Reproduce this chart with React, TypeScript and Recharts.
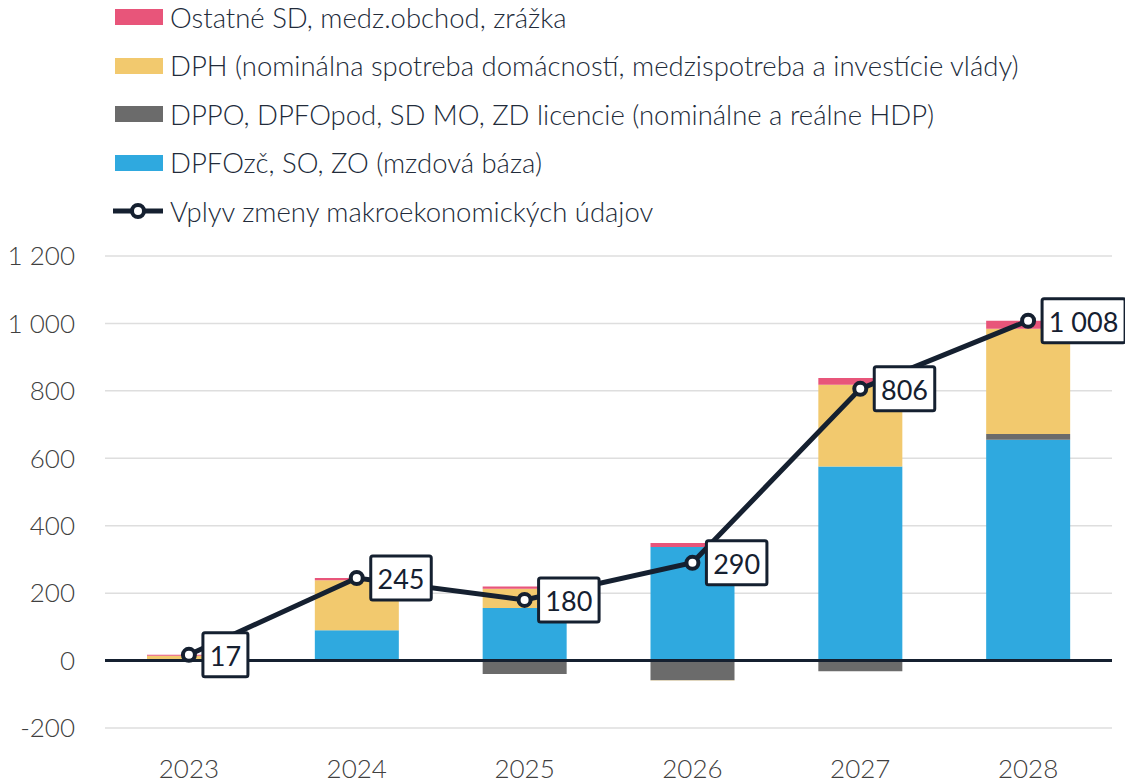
import {
  ComposedChart,
  Bar,
  Line,
  XAxis,
  YAxis,
  CartesianGrid,
  ReferenceLine,
  LabelList,
} from "recharts";

const years = ["2023", "2024", "2025", "2026", "2027", "2028"];
const wageBase = [2, 90, 156, 337, 576, 655];
const corporate = [0, 0, -40, -58, -32, 17];
const vat = [12, 148, 57, -1, 242, 312];
const other = [3, 7, 7, 12, 20, 24];
const total = [17, 245, 180, 290, 806, 1008];
const yTicks = [-200, 0, 200, 400, 600, 800, 1000, 1200];

const seriesNames = {
  other: "Ostatné SD, medz.obchod, zrážka",
  vat: "DPH (nominálna spotreba domácností, medzispotreba a investície vlády)",
  corporate: "DPPO, DPFOpod, SD MO, ZD licencie (nominálne a reálne HDP)",
  wageBase: "DPFOzč, SO, ZO (mzdová báza)",
  total: "Vplyv zmeny makroekonomických údajov",
};

const colors = {
  other: "#e8557a",
  vat: "#f2c96e",
  corporate: "#6b6b6b",
  wageBase: "#2fa9df",
  line: "#152030",
};

const data = years.map((year, i) => ({
  year,
  wageBase: wageBase[i],
  corporate: corporate[i],
  vat: vat[i],
  other: other[i],
  total: total[i],
}));

const fmt = (v: number) => {
  const s = String(Math.abs(v)).replace(/\B(?=(\d{3})+(?!\d))/g, " ");
  return v < 0 ? "-" + s : s;
};

const ValueBox = (props: any) => {
  const { x, y, value } = props;
  const text = fmt(value);
  const w =
    text.replace(/ /g, "").length * 15.5 + (text.includes(" ") ? 7 : 0) + 14;
  return (
    <g>
      <rect
        x={x + 14}
        y={y - 22}
        width={w}
        height={44}
        fill="#fff"
        stroke={colors.line}
        strokeWidth={3}
        rx={2}
      />
      <text
        x={x + 14 + w / 2}
        y={y + 1}
        textAnchor="middle"
        dominantBaseline="central"
        fontSize={27}
        fontWeight={400}
        fill={colors.line}
      >
        {text}
      </text>
    </g>
  );
};

const legendItems = [
  { key: "other", type: "bar" },
  { key: "vat", type: "bar" },
  { key: "corporate", type: "bar" },
  { key: "wageBase", type: "bar" },
  { key: "total", type: "line" },
] as const;

const ChartLegend = () => (
  <div style={{ position: "absolute", left: 113, top: -7 }}>
    {legendItems.map((item) => (
      <div
        key={item.key}
        style={{ display: "flex", alignItems: "center", height: 48.5 }}
      >
        {item.type === "bar" ? (
          <div
            style={{
              width: 48,
              height: 16,
              marginLeft: 2,
              background: (colors as any)[item.key],
            }}
          />
        ) : (
          <svg width={50} height={20}>
            <line x1={0} y1={10} x2={50} y2={10} stroke={colors.line} strokeWidth={5} />
            <circle cx={25} cy={10} r={6} fill="#fff" stroke={colors.line} strokeWidth={4} />
          </svg>
        )}
        <span
          style={{
            marginLeft: 7,
            fontSize: 27.5,
            fontWeight: 300,
            color: "#222b3a",
            whiteSpace: "nowrap",
          }}
        >
          {(seriesNames as any)[item.key]}
        </span>
      </div>
    ))}
  </div>
);

export default function App() {
  return (
    <div
      style={{
        position: "absolute",
        left: 0,
        top: 0,
        width: 1125,
        height: 781,
        background: "#fff",
        fontFamily: "Lato, sans-serif",
        fontWeight: 300,
      }}
    >
      <ComposedChart
        width={1125}
        height={781}
        data={data}
        stackOffset="sign"
        margin={{ top: 256, right: 13, bottom: 0, left: 0 }}
      >
        <CartesianGrid vertical={false} stroke="#dedede" strokeWidth={1.5} />
        <XAxis
          dataKey="year"
          axisLine={false}
          tickLine={false}
          tickSize={0}
          tickMargin={32}
          height={53}
          tick={{ fontSize: 26, fill: "#404040" }}
        />
        <YAxis
          domain={[-200, 1200]}
          ticks={yTicks}
          axisLine={false}
          tickLine={false}
          tickSize={0}
          tickMargin={30}
          width={105}
          tickFormatter={fmt}
          tick={{ fontSize: 26, fill: "#404040" }}
        />
        <Bar dataKey="wageBase" name={seriesNames.wageBase} stackId="a" fill={colors.wageBase} barSize={84} isAnimationActive={false} />
        <Bar dataKey="corporate" name={seriesNames.corporate} stackId="a" fill={colors.corporate} barSize={84} isAnimationActive={false} />
        <Bar dataKey="vat" name={seriesNames.vat} stackId="a" fill={colors.vat} barSize={84} isAnimationActive={false} />
        <Bar dataKey="other" name={seriesNames.other} stackId="a" fill={colors.other} barSize={84} isAnimationActive={false} />
        <ReferenceLine y={0} stroke={colors.line} strokeWidth={3} />
        <Line
          dataKey="total"
          name={seriesNames.total}
          stroke={colors.line}
          strokeWidth={5}
          dot={{ r: 6, fill: "#fff", stroke: colors.line, strokeWidth: 4 }}
          activeDot={false}
          isAnimationActive={false}
        >
          <LabelList dataKey="total" content={ValueBox} />
        </Line>
      </ComposedChart>
      <ChartLegend />
    </div>
  );
}
